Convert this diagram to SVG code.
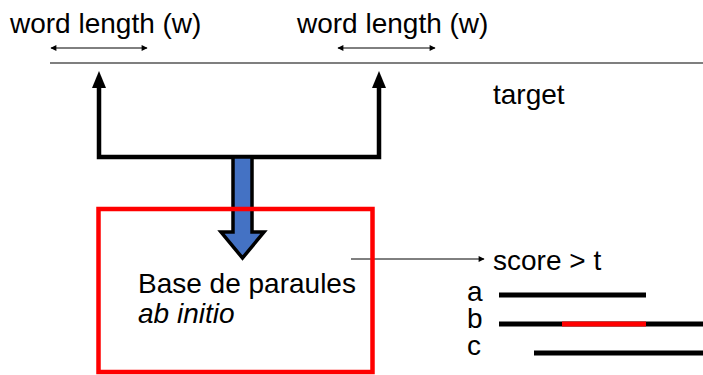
<svg xmlns="http://www.w3.org/2000/svg" width="703" height="375" viewBox="0 0 703 375">
<style>
text{font-family:"Liberation Sans",Arial,sans-serif;font-size:28px;fill:#000}
.thin{stroke:#000;stroke-width:1;fill:none}
.bar{stroke:#000;stroke-width:5;fill:none}
</style>
<defs>
<marker id="sm" viewBox="0 0 10 10" refX="9" refY="5" markerWidth="8" markerHeight="6" orient="auto-start-reverse" markerUnits="userSpaceOnUse"><path d="M0,0L10,5L0,10Z" fill="#000"/></marker>
</defs>
<rect width="703" height="375" fill="#fff"/>
<g id="target">
<line x1="50" y1="63" x2="703" y2="63" stroke="#555" stroke-width="1.3"/>
<text x="493" y="104">target</text>
</g>
<g id="wl1">
<text x="10" y="33">word length (w)</text>
<line class="thin" x1="51" y1="48" x2="147" y2="48" marker-start="url(#sm)" marker-end="url(#sm)"/>
</g>
<g id="wl2">
<text x="297" y="33">word length (w)</text>
<line class="thin" x1="338" y1="48" x2="435" y2="48" marker-start="url(#sm)" marker-end="url(#sm)"/>
</g>
<g id="connectors">
<path d="M99,87V157H379V87" fill="none" stroke="#000" stroke-width="4.5"/>
<path d="M92,88L99,71L106,88Z" fill="#000"/>
<path d="M372,88L379,71L386,88Z" fill="#000"/>
<path d="M233,157V232H221L242.5,258L264,232H252V157Z" fill="#4472C4" stroke="#000" stroke-width="3.5" stroke-linejoin="miter"/>
<line class="thin" x1="351" y1="259" x2="484" y2="259" marker-end="url(#sm)"/>
</g>
<g id="base">
<rect x="98.5" y="209" width="274" height="163" fill="none" stroke="#f00" stroke-width="4.5"/>
<text x="138" y="293">Base de paraules</text>
<text x="138" y="323" font-style="italic">ab initio</text>
</g>
<g id="score">
<text x="493" y="270">score &gt; t</text>
</g>
<g id="a">
<text x="467" y="301">a</text>
<line class="bar" x1="499" y1="295" x2="646" y2="295"/>
</g>
<g id="b">
<text x="467" y="328">b</text>
<line class="bar" x1="499" y1="324" x2="703" y2="324"/>
<line x1="562" y1="324" x2="646" y2="324" stroke="#f00" stroke-width="5"/>
</g>
<g id="c">
<text x="467" y="355">c</text>
<line class="bar" x1="534" y1="353" x2="703" y2="353"/>
</g>
</svg>
